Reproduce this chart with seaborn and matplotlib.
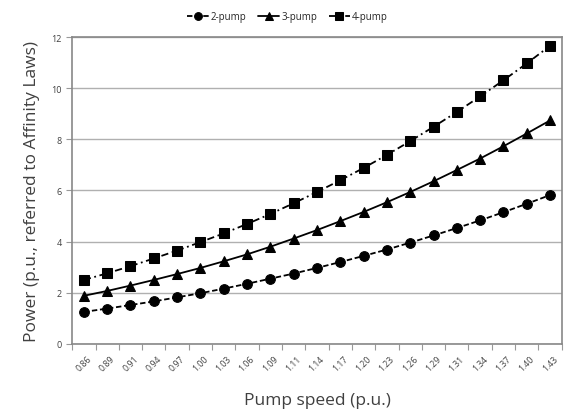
import pandas as pd
import matplotlib.pyplot as plt
import seaborn as sns
import numpy as np

# Pump speed categories (p.u.)
speed = ["0.86", "0.89", "0.91", "0.94", "0.97", "1.00", "1.03", "1.06", "1.09", "1.11",
         "1.14", "1.17", "1.20", "1.23", "1.26", "1.29", "1.31", "1.34", "1.37", "1.40", "1.43"]

# Power
pump2 = [1.25, 1.38, 1.52, 1.66, 1.82, 1.98, 2.16, 2.35, 2.55, 2.75, 2.97,
         3.20, 3.44, 3.69, 3.96, 4.24, 4.53, 4.83, 5.15, 5.48, 5.82]
pump3 = [1.88, 2.07, 2.28, 2.50, 2.73, 2.97, 3.23, 3.50, 3.80, 4.12, 4.45,
         4.80, 5.16, 5.54, 5.94, 6.36, 6.80, 7.25, 7.73, 8.23, 8.74]
pump4 = [2.50, 2.76, 3.04, 3.34, 3.65, 3.98, 4.32, 4.69, 5.08, 5.50, 5.94,
         6.40, 6.88, 7.39, 7.93, 8.49, 9.07, 9.68, 10.31, 10.97, 11.66]

sns.set_style("white")
plt.rcParams['font.family'] = ['Open Sans', 'DejaVu Sans']

fig = plt.figure(figsize=(5.64, 4.14), dpi=100)
ax = fig.add_axes([0.128, 0.167, 0.868, 0.741])

x = np.arange(len(speed))
series = [
    ("2-pump", pump2, "o", (0, (3, 1.5))),
    ("3-pump", pump3, "^", "-"),
    ("4-pump", pump4, "s", (0, (4, 2, 1, 2))),
]
for name, vals, mk, ls in series:
    df = pd.DataFrame({"x": x, "y": vals})
    sns.lineplot(data=df, x="x", y="y", ax=ax, color="black", linestyle=ls,
                 linewidth=1.3, marker=mk, markersize=7, markeredgecolor="black",
                 markerfacecolor="black", label=name)

ax.set_xlim(-0.5, len(speed) - 0.5)
ax.set_ylim(0, 12)
ax.set_yticks(range(0, 13, 2))
ax.yaxis.grid(True, color="#b0b0b0", linewidth=1)
ax.set_axisbelow(True)
ax.tick_params(axis="y", labelsize=6.5, length=4, width=0.8, left=True,
               labelcolor="#404040", color="#999999")

ax.set_xticks(x)
ax.set_xticklabels(speed, rotation=45, fontsize=6.3, color="#404040")
ax.tick_params(axis="x", length=0, pad=7)
ax.set_xticks(np.arange(-0.5, len(speed), 1), minor=True)
ax.tick_params(axis="x", which="minor", length=4, width=0.8, color="#999999", bottom=True)

for s in ax.spines.values():
    s.set_color("#888888")
    s.set_linewidth(1.2)

ax.set_xlabel("Pump speed (p.u.)", fontsize=12.5, color="#404040", labelpad=14)
ax.set_ylabel("Power (p.u., referred to Affinity Laws)", fontsize=12.5, color="#404040", labelpad=8)

ax.legend(loc="lower center", bbox_to_anchor=(0.44, 1.02), ncol=3, frameon=False,
          fontsize=7, handlelength=2.2, columnspacing=1.2, handletextpad=0.2, markerscale=0.8)

plt.savefig("out.png", dpi=100)
